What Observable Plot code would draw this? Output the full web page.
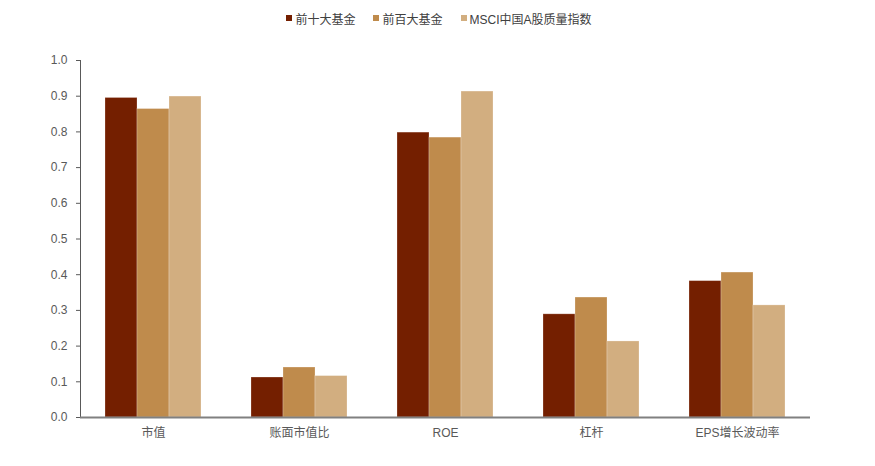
<!DOCTYPE html>
<html><head><meta charset="utf-8">
<script src="https://cdn.jsdelivr.net/npm/d3@7"></script>
<script src="https://cdn.jsdelivr.net/npm/@observablehq/plot@0.6"></script>
<style>
body{margin:0;background:#fff;font-family:"Liberation Sans","Noto Sans CJK SC",sans-serif;}
#legend{height:36px;display:flex;justify-content:center;align-items:center;gap:18px;font-size:12px;color:#404040;width:875px;padding-left:3px;box-sizing:border-box}
#legend .it{display:flex;align-items:center;gap:3px}
#legend .sw{width:6px;height:6px;display:inline-block}
</style></head>
<body>
<div id="legend"></div>
<div id="chart"></div>
<script>
const categories = ["市值","账面市值比","ROE","杠杆","EPS增长波动率"];
const seriesNames = ["前十大基金","前百大基金","MSCI中国A股质量指数"];
const top10 = [0.895,0.112,0.798,0.289,0.382];
const top100 = [0.864,0.140,0.784,0.336,0.406];
const msci = [0.899,0.116,0.913,0.213,0.314];
const colors = ["#741F00","#BF8B4C","#D2AE80"];
const yTicks = [0,0.1,0.2,0.3,0.4,0.5,0.6,0.7,0.8,0.9,1.0];

const seriesValues = [top10, top100, msci];
const rows = [];
categories.forEach((c, i) => seriesNames.forEach((s, j) => rows.push({category: c, series: s, value: seriesValues[j][i]})));

const legend = document.getElementById("legend");
seriesNames.forEach((s, j) => {
  const it = document.createElement("span"); it.className = "it";
  const sw = document.createElement("span"); sw.className = "sw"; sw.style.background = colors[j];
  const t = document.createElement("span"); t.textContent = s;
  it.append(sw, t); legend.append(it);
});

const chart = Plot.plot({
  width: 875, height: 430,
  marginTop: 24, marginBottom: 49, marginLeft: 78, marginRight: 63,
  style: {fontFamily: '"Liberation Sans","Noto Sans CJK SC",sans-serif', fontSize: "12px", color: "#595959", background: "#fff"},
  fx: {domain: categories, padding: 0, label: null, tickSize: 0, tickPadding: 11},
  x: {domain: seriesNames, axis: null, paddingInner: 0, paddingOuter: 0.74},
  y: {domain: [0, 1], ticks: yTicks, tickFormat: ".1f", tickSize: 4, tickPadding: 9, label: null, line: true},
  color: {domain: seriesNames, range: colors},
  marks: [
    Plot.barY(rows, {fx: "category", x: "series", y: "value", fill: "series", inset: 0, stroke: "#fff", strokeOpacity: 0.3, strokeWidth: 0.8}),
    Plot.ruleY([0], {stroke: "#808080", strokeWidth: 2})
  ]
});
document.getElementById("chart").append(chart);
</script>
</body></html>
